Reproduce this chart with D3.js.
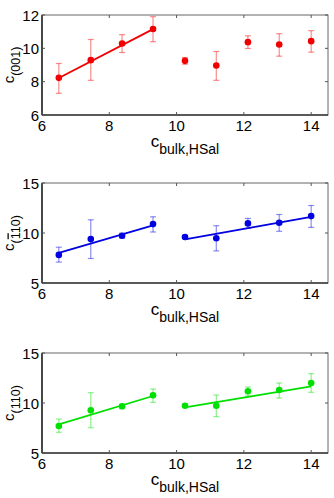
<!DOCTYPE html>
<html>
<head>
<meta charset="utf-8">
<script src="https://cdn.jsdelivr.net/npm/d3@7"></script>
<style>
  body { margin: 0; background: #fff; }
  svg text { font-family: "Liberation Sans", Arial, sans-serif; fill: #000; }
</style>
</head>
<body>
<div id="chart"></div>
<script>
const xVals = [6.5, 7.45, 8.38, 9.3, 10.25, 11.18, 12.12, 13.05, 14.0];

const y001 = [8.23, 9.29, 10.29, 11.16, 9.25, 8.97, 10.37, 10.23, 10.43];
const lo001 = [7.3, 8.08, 9.75, 10.4, 9.05, 8.08, 9.99, 9.53, 9.77];
const hi001 = [9.09, 10.53, 10.82, 11.9, 9.45, 9.81, 10.75, 10.88, 11.06];
const fit001 = [[[6.5, 8.22], [9.3, 11.15]]];

const y1b10 = [7.81, 9.4, 9.73, 10.89, 9.6, 9.47, 10.96, 11.03, 11.69];
const lo1b10 = [7.09, 7.45, 9.5, 10.1, 9.45, 8.21, 10.46, 10.17, 10.56];
const hi1b10 = [8.58, 11.32, 9.97, 11.62, 9.75, 10.73, 11.46, 11.85, 12.75];
const fit1b10 = [[[6.5, 8.01], [9.3, 10.76]], [[10.25, 9.37], [14.0, 11.62]]];

const y110 = [7.7, 9.27, 9.67, 10.77, 9.73, 9.73, 11.17, 11.3, 12.0];
const lo110 = [7.07, 7.53, 9.43, 10.07, 9.6, 8.63, 10.7, 10.5, 11.07];
const hi110 = [8.4, 11.03, 9.87, 11.4, 9.86, 10.8, 11.6, 12.0, 12.93];
const fit110 = [[[6.5, 7.87], [9.3, 10.7]], [[10.25, 9.57], [14.0, 11.67]]];

const xTicks = [6, 8, 10, 12, 14];

// subscript pieces: [text, overline?]
const panels = [
  { y: y001, lo: lo001, hi: hi001, fit: fit001, yDomain: [6, 12], yTicks: [6, 8, 10, 12], color: "#f00000", sub: [["(001)", false]], top: 15 },
  { y: y1b10, lo: lo1b10, hi: hi1b10, fit: fit1b10, yDomain: [5, 15], yTicks: [5, 10, 15], color: "#0000e0", sub: [["(", false], ["1", true], ["10)", false]], top: 183 },
  { y: y110, lo: lo110, hi: hi110, fit: fit110, yDomain: [5, 15], yTicks: [5, 10, 15], color: "#00e000", sub: [["(110)", false]], top: 353 }
];

const width = 334, height = 498;
const left = 42, right = 328, plotH = 100;

const svg = d3.select("#chart").append("svg")
  .attr("width", width)
  .attr("height", height);

const x = d3.scaleLinear().domain([6, 14.5]).range([left, right]);

panels.forEach(p => {
  const y = d3.scaleLinear().domain(p.yDomain).range([p.top + plotH, p.top]);
  const g = svg.append("g");

  // axes box
  g.append("rect")
    .attr("x", left).attr("y", p.top)
    .attr("width", right - left).attr("height", plotH)
    .attr("fill", "none").attr("stroke", "#666").attr("stroke-width", 1);
  g.append("line").attr("x1", left).attr("x2", left).attr("y1", p.top).attr("y2", p.top + plotH)
    .attr("stroke", "#000").attr("stroke-width", 1.2);
  g.append("line").attr("x1", left).attr("x2", right).attr("y1", p.top + plotH).attr("y2", p.top + plotH)
    .attr("stroke", "#000").attr("stroke-width", 1.2);

  // ticks (inside, both sides)
  p.yTicks.forEach(t => {
    g.append("line").attr("x1", left).attr("x2", left + 3).attr("y1", y(t)).attr("y2", y(t)).attr("stroke", "#555");
    g.append("line").attr("x1", right - 3).attr("x2", right).attr("y1", y(t)).attr("y2", y(t)).attr("stroke", "#555");
    g.append("text").attr("x", left - 3).attr("y", y(t) + 5.5)
      .attr("text-anchor", "end").attr("font-size", 15).text(t);
  });
  xTicks.forEach(t => {
    g.append("line").attr("x1", x(t)).attr("x2", x(t)).attr("y1", p.top + plotH).attr("y2", p.top + plotH - 3).attr("stroke", "#555");
    g.append("line").attr("x1", x(t)).attr("x2", x(t)).attr("y1", p.top).attr("y2", p.top + 3).attr("stroke", "#555");
    g.append("text").attr("x", x(t)).attr("y", p.top + plotH + 16)
      .attr("text-anchor", "middle").attr("font-size", 15).text(t);
  });

  // error bars
  const eb = g.append("g").attr("stroke", p.color).attr("stroke-opacity", 0.45).attr("stroke-width", 1.2);
  xVals.forEach((xv, i) => {
    const cx = x(xv);
    eb.append("line").attr("x1", cx).attr("x2", cx).attr("y1", y(p.lo[i])).attr("y2", y(p.hi[i]));
    eb.append("line").attr("x1", cx - 3).attr("x2", cx + 3).attr("y1", y(p.lo[i])).attr("y2", y(p.lo[i]));
    eb.append("line").attr("x1", cx - 3).attr("x2", cx + 3).attr("y1", y(p.hi[i])).attr("y2", y(p.hi[i]));
  });

  // fit lines
  const line = d3.line().x(d => x(d[0])).y(d => y(d[1]));
  p.fit.forEach(seg => {
    g.append("path").datum(seg).attr("d", line)
      .attr("fill", "none").attr("stroke", p.color).attr("stroke-width", 1.8);
  });

  // markers
  g.selectAll(".pt").data(xVals).enter().append("circle")
    .attr("cx", d => x(d)).attr("cy", (d, i) => y(p.y[i]))
    .attr("r", 3.3).attr("fill", p.color);

  // x label
  const xl = g.append("text").attr("x", 185).attr("y", p.top + plotH + 32)
    .attr("text-anchor", "middle").attr("font-size", 17);
  xl.append("tspan").text("c");
  xl.append("tspan").attr("font-size", 14).attr("dy", 7).text("bulk,HSal");

  // y label
  const yl = g.append("text")
    .attr("transform", `translate(14,${p.top + plotH / 2}) rotate(-90)`)
    .attr("text-anchor", "middle").attr("font-size", 15);
  yl.append("tspan").text("c");
  p.sub.forEach((s, k) => {
    const ts = yl.append("tspan").attr("font-size", 12.5).text(s[0]);
    if (k === 0) ts.attr("dy", 5.5);
    if (s[1]) ts.style("text-decoration", "overline");
  });
});
</script>
</body>
</html>
